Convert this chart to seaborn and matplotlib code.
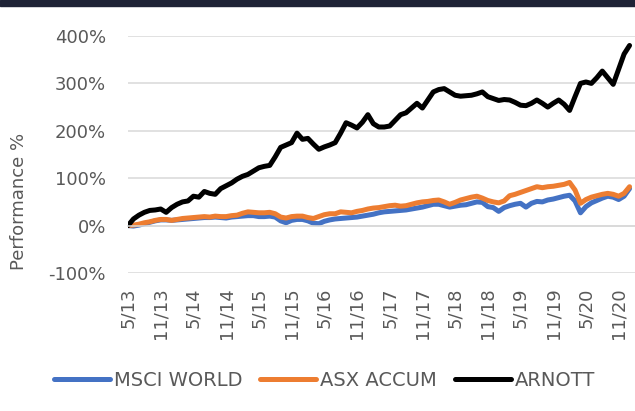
import matplotlib
matplotlib.use("Agg")
import matplotlib.pyplot as plt
from matplotlib.patches import Rectangle
import numpy as np
import pandas as pd
import seaborn as sns

# monthly performance (%) from May 2013 to Jan 2021
msci_world = [0, -1, 1, 4, 7, 10, 12, 12, 11, 12, 13, 14, 15, 16, 17, 17, 18, 17, 16, 18,
              19, 20, 21, 21, 19, 19, 20, 18, 10, 6, 11, 13, 13, 10, 5, 4, 9, 12, 14, 15,
              16, 17, 18, 20, 22, 24, 27, 29, 30, 31, 32, 33, 35, 37, 39, 42, 45, 45, 42, 39,
              41, 43, 44, 47, 50, 49, 40, 38, 30, 38, 42, 45, 47, 39, 47, 51, 50, 54, 56, 59,
              62, 64, 52, 27, 40, 48, 53, 58, 62, 60, 55, 62, 78]
asx_accum = [0, 1, 3, 6, 8, 11, 13, 13, 11, 13, 15, 16, 17, 18, 19, 18, 20, 19, 19, 21,
             22, 26, 29, 28, 27, 27, 28, 25, 18, 16, 19, 20, 20, 17, 15, 19, 23, 25, 25, 29,
             28, 27, 30, 32, 35, 37, 38, 40, 42, 43, 41, 42, 45, 48, 50, 51, 53, 54, 50, 45,
             49, 54, 57, 60, 62, 58, 53, 50, 48, 52, 63, 66, 70, 74, 78, 82, 80, 82, 83, 85,
             87, 91, 75, 47, 55, 60, 63, 66, 68, 66, 62, 68, 82]
arnott = [0, 14, 22, 28, 32, 33, 35, 28, 38, 45, 50, 52, 62, 60, 72, 68, 66, 78, 84, 90,
          98, 104, 108, 115, 122, 125, 127, 145, 165, 170, 175, 195, 182, 184, 172, 161, 166, 170, 175, 195,
          217, 212, 206, 218, 234, 215, 208, 208, 210, 222, 234, 238, 248, 258, 248, 265, 282, 287, 289, 282,
          275, 273, 274, 275, 278, 282, 272, 268, 264, 266, 265, 260, 254, 253, 258, 265, 258, 250, 258, 265,
          256, 243, 272, 300, 303, 300, 312, 326, 312, 298, 330, 362, 380]
series_names = ["MSCI WORLD", "ASX ACCUM", "ARNOTT"]
series_colors = ["#4472C4", "#ED7D31", "#000000"]
tick_labels = ["5/13", "11/13", "5/14", "11/14", "5/15", "11/15", "5/16", "11/16",
               "5/17", "11/17", "5/18", "11/18", "5/19", "11/19", "5/20", "11/20"]
y_ticks = [-100, 0, 100, 200, 300, 400]

months = np.arange(len(arnott))
df = pd.concat([
    pd.DataFrame({"month": months, "perf": vals, "series": name})
    for name, vals in zip(series_names, [msci_world, asx_accum, arnott])
])

sns.set_style("white")
plt.rcParams["font.family"] = ["DejaVu Sans"]
text_col = "#595959"
grid_col = "#D9D9D9"

fig = plt.figure(figsize=(6.35, 4.11), dpi=100)
ax = fig.add_axes([128 / 635, 138 / 411, 507 / 635, 237 / 411])

sns.lineplot(data=df, x="month", y="perf", hue="series", hue_order=series_names,
             palette=dict(zip(series_names, series_colors)), linewidth=3.6,
             ax=ax, legend=True)

ax.set_ylim(-100, 400)
ax.set_xlim(0, 93.0)
ax.set_yticks(y_ticks)
ax.set_yticklabels([f"{v}%" for v in y_ticks])
ax.set_xticks(np.arange(0, 6 * len(tick_labels), 6))
ax.set_xticklabels(tick_labels)
ax.yaxis.grid(True, color=grid_col, linewidth=1.1)
ax.set_axisbelow(True)

for s in ["top", "right", "left"]:
    ax.spines[s].set_visible(False)
ax.spines["bottom"].set_position(("data", 0))
ax.spines["bottom"].set_color(grid_col)
ax.spines["bottom"].set_linewidth(1.1)

ax.tick_params(axis="y", length=0, pad=16, labelsize=13, labelcolor=text_col)
ax.tick_params(axis="x", direction="out", length=3.6, width=1.1, color=grid_col,
               pad=41, labelsize=13, labelcolor=text_col, labelrotation=90)

ax.set_xlabel("")
ax.set_ylabel("Performance %", fontsize=13, color=text_col)
ax.yaxis.set_label_coords(-0.197, 0.304)

handles, labels = ax.get_legend_handles_labels()
ax.get_legend().remove()
for h in handles:
    h.set_solid_capstyle("round")
fig.legend(handles, labels, loc="center", bbox_to_anchor=(324.5 / 635, 30.3 / 411),
           ncol=3, frameon=False, fontsize=14, labelcolor=text_col,
           handlelength=2.9, handletextpad=0.2, columnspacing=0.9)

fig.patches.append(Rectangle((0, 405 / 411), 1, 6 / 411, transform=fig.transFigure,
                             color="#1E2336", zorder=5))

fig.savefig("out.png", dpi=100)
